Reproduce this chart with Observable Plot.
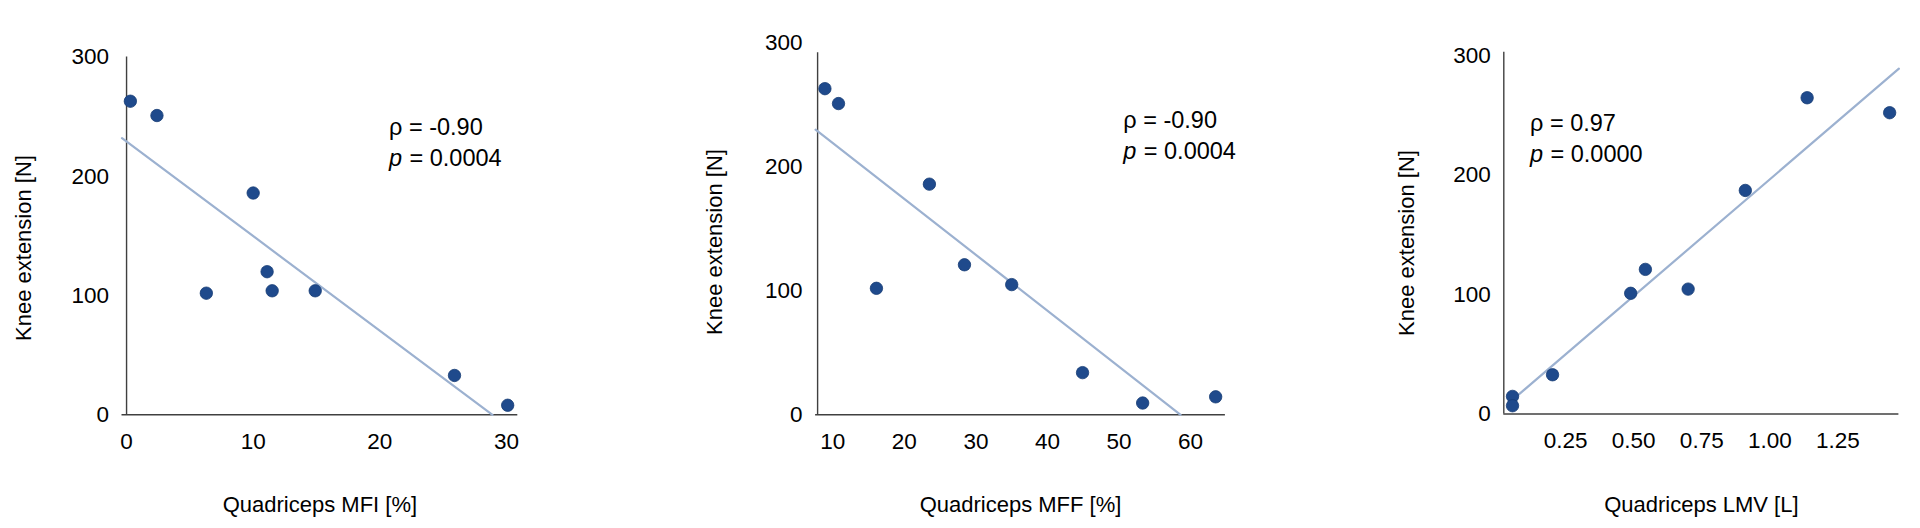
<!DOCTYPE html>
<html><head><meta charset="utf-8">
<script src="https://cdn.jsdelivr.net/npm/d3@7"></script>
<script src="https://cdn.jsdelivr.net/npm/@observablehq/plot@0.6"></script>
<style>
body{margin:0;background:#fff;}
#row{display:flex;width:1920px;height:528px;}
#row svg{display:block;flex:none;}
</style></head><body><div id="row"></div>
<script>
// ---- data ----
const yTicks = [0, 100, 200, 300];
const yLabel = "Knee extension [N]";

const mfiX = [0.3, 2.4, 10.0, 11.1, 6.3, 11.5, 14.9, 25.9, 30.1];
const mfiY = [263, 251, 186, 120, 102, 104, 104, 33, 8];
const mfiFitX = [-0.36, 28.9];
const mfiFitY = [232, 0];
const mfiTicks = [0, 10, 20, 30];

const mffX = [8.9, 10.8, 23.5, 16.1, 28.4, 35.0, 44.9, 53.3, 63.5];
const mffY = [263, 251, 186, 102, 121, 105, 34, 9.5, 14.5];
const mffFitX = [7.6, 58.6];
const mffFitY = [230, 0];
const mffTicks = [10, 20, 30, 40, 50, 60];

const lmvX = [0.055, 0.055, 0.202, 0.489, 0.543, 0.700, 0.910, 1.137, 1.440];
const lmvY = [14.8, 7.0, 32.9, 101, 121, 104.5, 187, 264.5, 252];
const lmvFitX = [0.059, 1.474];
const lmvFitY = [12.7, 288.8];
const lmvTicks = [0.25, 0.50, 0.75, 1.00, 1.25];

const xLabels = ["Quadriceps MFI [%]", "Quadriceps MFF [%]", "Quadriceps LMV [L]"];
const rhoLabels = ["ρ = -0.90", "ρ = -0.90", "ρ = 0.97"];
const pSymbol = "p";
const pValues = ["= 0.0004", "= 0.0004", "= 0.0000"];

// ---- styling / layout ----
const FONT = "'Liberation Sans', Arial, Helvetica, sans-serif";
const DOT = "#1f4a8c";
const DOT_STROKE = "#173c75";
const FIT = "#9cb1d0";
const AXIS = "#404040";
const W = 640, H = 528;
const ANN = 23.5;

function panel(cfg) {
  const pts = cfg.xs.map((x, i) => ({x, y: cfg.ys[i]}));
  const fit = cfg.fitX.map((x, i) => ({x, y: cfg.fitY[i]}));
  const m = cfg.margin;
  const toDx = (px) => px - m.left;
  const toDy = (py) => py - m.top;
  return Plot.plot({
    width: W, height: H,
    marginLeft: m.left, marginRight: m.right, marginTop: m.top, marginBottom: m.bottom,
    x: {domain: cfg.xDomain},
    y: {domain: [0, 300]},
    style: {fontFamily: FONT, fontSize: "22px", color: "#000", background: "#fff", overflow: "visible"},
    marks: [
      Plot.ruleY([0], {stroke: AXIS, strokeWidth: 1.5}),
      Plot.ruleX([cfg.axisAt], {y1: 0, y2: cfg.yTop, stroke: AXIS, strokeWidth: 1.4}),
      Plot.axisY(yTicks, {tickSize: 0, tickPadding: 13, fontSize: 22.5, label: null}),
      Plot.axisX(cfg.xTicks, {tickSize: 0, tickPadding: 18, fontSize: 22.5, label: null, tickFormat: cfg.xFormat}),
      Plot.line(fit, {x: "x", y: "y", stroke: FIT, strokeWidth: 2.2}),
      Plot.dot(pts, {x: "x", y: "y", r: 6.2, fill: DOT, stroke: DOT_STROKE, strokeWidth: 0.8}),
      Plot.text([cfg.rho], {frameAnchor: "top-left", dx: toDx(cfg.annot[0]), dy: toDy(cfg.annot[1]),
        textAnchor: "start", lineAnchor: "bottom", fontSize: ANN, fill: "#000"}),
      Plot.text([pSymbol], {frameAnchor: "top-left", dx: toDx(cfg.annot[0]), dy: toDy(cfg.annot[2]),
        textAnchor: "start", lineAnchor: "bottom", fontSize: ANN, fontStyle: "italic", fill: "#000"}),
      Plot.text([cfg.pv], {frameAnchor: "top-left", dx: toDx(cfg.annot[0] + 20.5), dy: toDy(cfg.annot[2]),
        textAnchor: "start", lineAnchor: "bottom", fontSize: ANN, fill: "#000"}),
      Plot.text([yLabel], {frameAnchor: "top-left", dx: toDx(cfg.yLab[0]), dy: toDy(cfg.yLab[1]),
        rotate: -90, textAnchor: "middle", lineAnchor: "bottom", fontSize: 22, fill: "#000"}),
      Plot.text([cfg.xLabel], {frameAnchor: "bottom", dy: 511.5 - (H - m.bottom),
        textAnchor: "middle", lineAnchor: "bottom", fontSize: 22, fill: "#000"})
    ]
  });
}

const row = document.getElementById("row");
row.append(panel({
  xs: mfiX, ys: mfiY, fitX: mfiFitX, fitY: mfiFitY,
  xDomain: [-0.36, 30.9], xTicks: mfiTicks, xFormat: d3.format("d"),
  axisAt: 0, yTop: 300,
  margin: {left: 121.5, right: 122.7, top: 56.6, bottom: 113.7},
  rho: rhoLabels[0], pv: pValues[0], annot: [388.5, 134.5, 165.5],
  yLab: [30.5, 247.5], xLabel: xLabels[0]
}));
row.append(panel({
  xs: mffX, ys: mffY, fitX: mffFitX, fitY: mffFitY,
  xDomain: [7.6, 64.86], xTicks: mffTicks, xFormat: d3.format("d"),
  axisAt: 7.88, yTop: 292,
  margin: {left: 175.1, right: 55.1, top: 42.3, bottom: 113.7},
  rho: rhoLabels[1], pv: pValues[1], annot: [482.8, 127.7, 158.8],
  yLab: [81.8, 241.5], xLabel: xLabels[1]
}));
row.append(panel({
  xs: lmvX, ys: lmvY, fitX: lmvFitX, fitY: lmvFitY,
  xDomain: [0.023, 1.474], xTicks: lmvTicks, xFormat: d3.format(".2f"),
  axisAt: 0.023, yTop: 302.5,
  margin: {left: 223.3, right: 21.6, top: 54.8, bottom: 114.4},
  rho: rhoLabels[2], pv: pValues[2], annot: [249.5, 130.7, 161.7],
  yLab: [133, 242.5], xLabel: xLabels[2]
}));
</script></body></html>
